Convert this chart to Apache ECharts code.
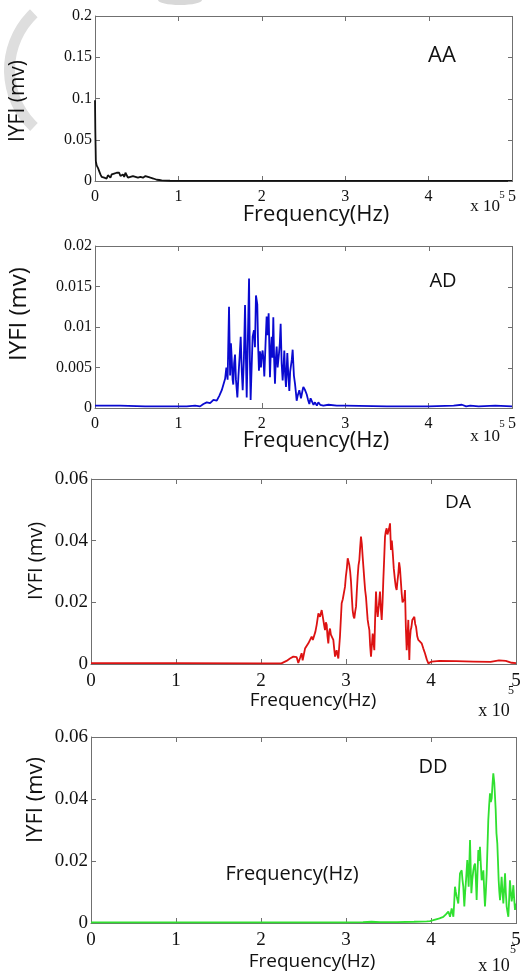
<!DOCTYPE html>
<html>
<head>
<meta charset="utf-8">
<script src="https://cdn.jsdelivr.net/npm/echarts@6/dist/echarts.min.js"></script>
<style>
html,body{margin:0;padding:0;background:#fff;}
#chart{width:524px;height:978px;}
</style>
</head>
<body>
<div id="chart"></div>
<script>
// ---- data (x in units of 10^5 Hz, y in mv) ----
const xTicks = [0, 1, 2, 3, 4, 5];
const panelNames = ['AA', 'AD', 'DA', 'DD'];
const yMax = [0.2, 0.02, 0.06, 0.06];
const yStep = [0.05, 0.005, 0.02, 0.02];
const yTicks = [[0, 0.05, 0.1, 0.15, 0.2], [0, 0.005, 0.01, 0.015, 0.02], [0, 0.02, 0.04, 0.06], [0, 0.02, 0.04, 0.06]];

const aaData = [[0,0.098],[0.004,0.06],[0.01,0.024],[0.02,0.019],[0.035,0.016],[0.05,0.012],[0.065,0.008],[0.08,0.005],[0.095,0.007],[0.11,0.004],[0.125,0.006],[0.14,0.003],[0.155,0.007],[0.17,0.005],[0.185,0.004],[0.2,0.008],[0.215,0.006],[0.23,0.009],[0.245,0.007],[0.26,0.01],[0.275,0.008],[0.29,0.01],[0.305,0.006],[0.32,0.004],[0.335,0.008],[0.35,0.005],[0.365,0.01],[0.38,0.007],[0.395,0.004],[0.41,0.006],[0.425,0.005],[0.44,0.003],[0.455,0.006],[0.47,0.004],[0.485,0.005],[0.5,0.007],[0.515,0.004],[0.53,0.003],[0.545,0.005],[0.56,0.007],[0.575,0.004],[0.59,0.003],[0.605,0.006],[0.62,0.004],[0.635,0.005],[0.65,0.003],[0.665,0.004],[0.68,0.0025],[0.7,0.003],[0.72,0.002],[0.74,0.0015],[0.77,0.0012],[0.8,0.0008],[0.85,0.0005],[0.9,0.0003],[1.0,0.0002],[1.5,0.0001],[2,0.0001],[3,0.0001],[4,0.0001],[5,0.0001]];

const adData = [[0,0.0003],[0.3,0.0003],[0.6,0.0002],[0.9,0.0002],[1.1,0.0002],[1.2,0.0003],[1.26,0.0002],[1.3,0.0005],[1.34,0.0007],[1.38,0.0006],[1.42,0.001],[1.46,0.0009],[1.49,0.0015],[1.52,0.0022],[1.54,0.0029],[1.56,0.0036],[1.575,0.005],[1.59,0.0035],[1.607,0.0125],[1.62,0.004],[1.63,0.008],[1.639,0.0062],[1.65,0.0035],[1.658,0.0029],[1.668,0.0055],[1.679,0.0066],[1.69,0.0035],[1.707,0.0013],[1.72,0.004],[1.735,0.0065],[1.747,0.0088],[1.76,0.0045],[1.771,0.0022],[1.785,0.006],[1.799,0.0127],[1.81,0.006],[1.819,0.0013],[1.83,0.007],[1.847,0.016],[1.857,0.006],[1.866,0.001],[1.878,0.005],[1.89,0.0088],[1.906,0.0096],[1.918,0.0075],[1.93,0.0139],[1.946,0.0128],[1.955,0.008],[1.966,0.0046],[1.978,0.007],[1.99,0.005],[2.0,0.0065],[2.01,0.0071],[2.02,0.006],[2.03,0.0039],[2.045,0.008],[2.058,0.0113],[2.07,0.009],[2.082,0.0117],[2.098,0.0038],[2.108,0.007],[2.118,0.0088],[2.128,0.0062],[2.138,0.0112],[2.148,0.006],[2.158,0.003],[2.168,0.006],[2.178,0.0076],[2.19,0.005],[2.206,0.0067],[2.216,0.008],[2.226,0.0104],[2.238,0.0055],[2.25,0.0034],[2.26,0.005],[2.27,0.0071],[2.28,0.004],[2.29,0.0026],[2.3,0.0052],[2.306,0.0068],[2.318,0.004],[2.33,0.0021],[2.34,0.0045],[2.35,0.0047],[2.36,0.006],[2.37,0.0072],[2.385,0.004],[2.398,0.003],[2.41,0.0018],[2.418,0.0009],[2.43,0.0015],[2.45,0.0022],[2.47,0.0012],[2.485,0.002],[2.498,0.0026],[2.515,0.0023],[2.538,0.0017],[2.555,0.001],[2.57,0.0005],[2.585,0.0012],[2.598,0.001],[2.62,0.0004],[2.638,0.0007],[2.66,0.0003],[2.678,0.0007],[2.7,0.0004],[2.738,0.0003],[2.8,0.0004],[2.9,0.0003],[3.0,0.0003],[3.5,0.0002],[4.0,0.0002],[4.3,0.0003],[4.4,0.0004],[4.45,0.0002],[4.5,0.0003],[4.6,0.0002],[4.8,0.0003],[5,0.0002]];

const daData = [[0,0.0003],[1,0.0003],[2,0.0002],[2.24,0.0002],[2.3,0.001],[2.341,0.0018],[2.38,0.0024],[2.42,0.0022],[2.439,0.0003],[2.46,0.002],[2.478,0.0035],[2.49,0.0012],[2.498,0.0008],[2.518,0.005],[2.537,0.0045],[2.557,0.0067],[2.575,0.0072],[2.596,0.0089],[2.61,0.0078],[2.624,0.0083],[2.64,0.0105],[2.655,0.0127],[2.675,0.0164],[2.694,0.0153],[2.714,0.0175],[2.733,0.0143],[2.743,0.0125],[2.753,0.011],[2.763,0.0135],[2.773,0.0127],[2.782,0.009],[2.792,0.0067],[2.802,0.0105],[2.812,0.0115],[2.822,0.0095],[2.831,0.0089],[2.851,0.0078],[2.861,0.005],[2.871,0.0024],[2.88,0.0035],[2.89,0.0045],[2.9,0.003],[2.91,0.0018],[2.929,0.0089],[2.949,0.0197],[2.962,0.021],[2.976,0.0208],[2.988,0.025],[2.998,0.0283],[3.01,0.031],[3.02,0.0343],[3.039,0.0321],[3.049,0.03],[3.059,0.0267],[3.068,0.022],[3.078,0.0175],[3.088,0.0155],[3.098,0.0148],[3.108,0.017],[3.118,0.0186],[3.128,0.024],[3.137,0.0283],[3.147,0.032],[3.157,0.0337],[3.167,0.038],[3.176,0.0413],[3.186,0.039],[3.196,0.0348],[3.206,0.031],[3.216,0.0272],[3.225,0.024],[3.235,0.0218],[3.245,0.018],[3.255,0.0143],[3.265,0.0125],[3.275,0.011],[3.284,0.006],[3.294,0.0024],[3.304,0.006],[3.314,0.0099],[3.324,0.007],[3.333,0.0045],[3.343,0.015],[3.353,0.0235],[3.363,0.018],[3.373,0.0153],[3.386,0.019],[3.4,0.0235],[3.41,0.018],[3.42,0.0143],[3.43,0.02],[3.439,0.0272],[3.449,0.034],[3.459,0.0413],[3.468,0.043],[3.478,0.044],[3.488,0.042],[3.498,0.0418],[3.508,0.044],[3.518,0.0456],[3.529,0.037],[3.539,0.04],[3.549,0.0365],[3.562,0.031],[3.576,0.0272],[3.586,0.025],[3.596,0.024],[3.606,0.027],[3.616,0.0294],[3.625,0.033],[3.635,0.031],[3.645,0.027],[3.655,0.0229],[3.665,0.02],[3.675,0.0197],[3.685,0.021],[3.694,0.024],[3.704,0.012],[3.714,0.0045],[3.724,0.009],[3.733,0.0143],[3.74,0.006],[3.745,0.0013],[3.752,0.008],[3.761,0.011],[3.77,0.012],[3.78,0.0143],[3.792,0.014],[3.804,0.0153],[3.814,0.013],[3.824,0.0121],[3.838,0.009],[3.851,0.0078],[3.87,0.0072],[3.89,0.0067],[3.91,0.005],[3.929,0.0035],[3.95,0.0015],[3.969,0.0002],[3.99,0.0005],[4.008,0.0008],[4.1,0.001],[4.3,0.0009],[4.5,0.0008],[4.7,0.0007],[4.8,0.0012],[4.88,0.001],[4.95,0.0004],[5,0.0003]];

const ddData = [[0,0.0002],[1,0.0002],[2,0.0002],[3,0.0002],[3.2,0.0003],[3.3,0.0004],[3.4,0.0003],[3.6,0.0003],[3.8,0.0004],[3.95,0.0005],[3.988,0.0006],[4.027,0.0009],[4.06,0.0012],[4.1,0.0015],[4.145,0.002],[4.175,0.0028],[4.204,0.0037],[4.224,0.002],[4.243,0.0047],[4.263,0.002],[4.272,0.006],[4.282,0.0117],[4.292,0.01],[4.302,0.0085],[4.321,0.0063],[4.331,0.011],[4.341,0.016],[4.351,0.0165],[4.361,0.017],[4.37,0.014],[4.38,0.0117],[4.392,0.0053],[4.402,0.01],[4.412,0.0138],[4.427,0.0203],[4.443,0.0117],[4.452,0.02],[4.459,0.0268],[4.467,0.018],[4.475,0.0096],[4.486,0.014],[4.498,0.017],[4.508,0.0185],[4.518,0.0192],[4.528,0.014],[4.537,0.0074],[4.547,0.016],[4.557,0.0235],[4.566,0.02],[4.576,0.0246],[4.586,0.019],[4.596,0.0138],[4.606,0.015],[4.616,0.017],[4.625,0.011],[4.635,0.0053],[4.645,0.01],[4.655,0.016],[4.665,0.025],[4.674,0.0332],[4.684,0.038],[4.694,0.0418],[4.704,0.039],[4.714,0.0402],[4.724,0.045],[4.733,0.0483],[4.745,0.0451],[4.761,0.0365],[4.77,0.029],[4.78,0.0257],[4.788,0.02],[4.796,0.0138],[4.804,0.01],[4.812,0.0074],[4.822,0.011],[4.831,0.0149],[4.841,0.01],[4.851,0.0063],[4.861,0.011],[4.871,0.016],[4.88,0.01],[4.89,0.0053],[4.9,0.0035],[4.91,0.002],[4.92,0.008],[4.929,0.0138],[4.939,0.01],[4.949,0.007],[4.959,0.009],[4.969,0.0122],[4.978,0.008],[4.988,0.0042],[5,0.0063]];

const seriesData = [aaData, adData, daData, ddData];
const lineColors = ['#111111', '#0a0ad0', '#dd1212', '#30e030'];

// ---- layout ----
const grids = [
  {left: 95, top: 16, width: 417, height: 165},
  {left: 95, top: 246, width: 417, height: 162},
  {left: 91, top: 479, width: 425, height: 185},
  {left: 91, top: 737, width: 425, height: 186}
];
const yLabelSize = [16, 16, 19, 19];
const xLabelSize = [16, 16, 19, 19];
const axisColor = '#707070';
const serif = 'Liberation Serif';
const sans = 'Open Sans';

const xAxes = [], yAxes = [], series = [];
grids.forEach((g, i) => {
  const mk = () => ({gridIndex: i, type: 'value', splitLine: {show: false},
    axisLine: {show: true, onZero: false, lineStyle: {color: axisColor, width: 1}},
    axisTick: {show: true, inside: true, length: 5, lineStyle: {color: axisColor}}});
  xAxes.push(Object.assign(mk(), {position: 'bottom', min: xTicks[0], max: xTicks[xTicks.length - 1], interval: 1,
    axisLabel: {fontFamily: serif, fontSize: xLabelSize[i], color: '#111', margin: 8}}));
  yAxes.push(Object.assign(mk(), {position: 'left', min: 0, max: yMax[i], interval: yStep[i],
    axisLabel: {fontFamily: serif, fontSize: yLabelSize[i], color: '#111', margin: 3}}));
  series.push({type: 'line', xAxisIndex: i, yAxisIndex: i, data: seriesData[i],
    showSymbol: false, symbol: 'none', smooth: false, animation: false,
    lineStyle: {color: lineColors[i], width: 1.8}, z: 3});
});

function txt(x, y, text, font, opts) {
  return Object.assign({type: 'text', x: x, y: y, z: 10,
    style: {text: text, font: font, fill: '#111', align: 'center', verticalAlign: 'middle',
      textAlign: 'center', textVerticalAlign: 'middle'}}, opts || {});
}

const graphics = [
  // faint watermark remnants
  {type: 'sector', shape: {cx: 88, cy: 70, r0: 73, r: 84, startAngle: 2.33, endAngle: 3.95, clockwise: true},
    style: {fill: '#dedede'}, z: 0, silent: true},
  {type: 'ellipse', shape: {cx: 180, cy: 0, rx: 22, ry: 5}, style: {fill: '#d8d8d8'}, z: 0, silent: true},
  // panel tags
  txt(442, 56, panelNames[0], '22px ' + sans),
  txt(443, 281, panelNames[1], '20px ' + sans),
  txt(458, 503, panelNames[2], '19px ' + sans),
  txt(433, 767, panelNames[3], '20px ' + sans),
  // x-axis titles
  txt(316, 215, 'Frequency(Hz)', '22px ' + sans),
  txt(316, 441, 'Frequency(Hz)', '22px ' + sans),
  txt(313, 701, 'Frequency(Hz)', '19px ' + sans),
  txt(312, 962, 'Frequency(Hz)', '19px ' + sans),
  txt(292, 874, 'Frequency(Hz)', '20px ' + sans),
  // y-axis titles
  txt(18, 101, 'IYFI (mv)', '21px ' + sans, {rotation: Math.PI / 2}),
  txt(19, 314, 'IYFI (mv)', '24px ' + sans, {rotation: Math.PI / 2}),
  txt(36, 561, 'IYFI (mv)', '20px ' + sans, {rotation: Math.PI / 2}),
  txt(36, 800, 'IYFI (mv)', '22px ' + sans, {rotation: Math.PI / 2}),
  // exponent marks
  txt(485, 207, 'x 10', '17px ' + serif),
  txt(502, 195, '5', '11px ' + serif),
  txt(485, 437, 'x 10', '17px ' + serif),
  txt(502, 424, '5', '11px ' + serif),
  txt(494, 711, 'x 10', '18px ' + serif),
  txt(511, 691, '5', '12px ' + serif),
  txt(494, 966, 'x 10', '18px ' + serif),
  txt(513, 950, '5', '12px ' + serif)
];

// top and right frame edges with inward ticks, as filled thin rectangles from the grid layout
const frameFill = {fill: axisColor};
grids.forEach((g, i) => {
  const xMax = xTicks[xTicks.length - 1];
  graphics.push({type: 'rect', z: 6, silent: true, shape: {x: g.left, y: g.top, width: g.width + 1, height: 1}, style: frameFill});
  graphics.push({type: 'rect', z: 6, silent: true, shape: {x: g.left + g.width, y: g.top, width: 1, height: g.height + 1}, style: frameFill});
  xTicks.forEach(t => {
    const px = Math.round(g.left + (t - xTicks[0]) / (xMax - xTicks[0]) * g.width);
    graphics.push({type: 'rect', z: 6, silent: true, shape: {x: px, y: g.top, width: 1, height: 5}, style: frameFill});
  });
  yTicks[i].forEach(t => {
    const py = Math.round(g.top + g.height - t / yMax[i] * g.height);
    graphics.push({type: 'rect', z: 6, silent: true, shape: {x: g.left + g.width - 4, y: py, width: 5, height: 1}, style: frameFill});
  });
});

const chart = echarts.init(document.getElementById('chart'), null, {renderer: 'canvas'});
chart.setOption({
  animation: false,
  backgroundColor: '#ffffff',
  grid: grids.map(g => Object.assign({show: false}, g)),
  xAxis: xAxes,
  yAxis: yAxes,
  series: series,
  graphic: graphics
});
</script>
</body>
</html>
